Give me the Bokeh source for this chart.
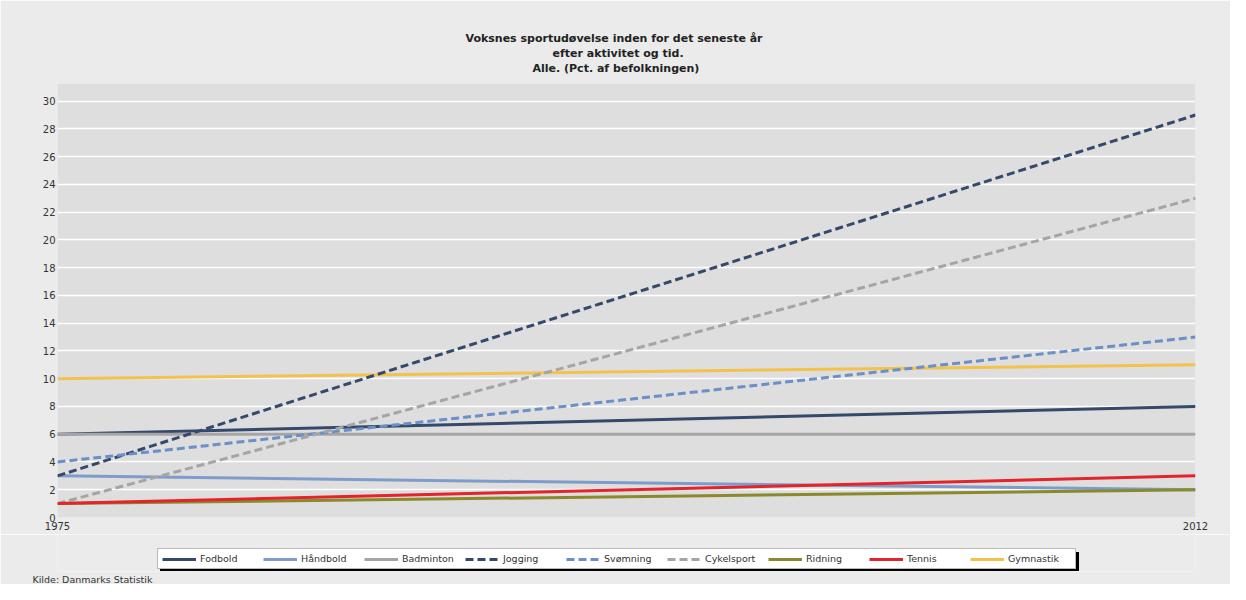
from bokeh.plotting import figure
from bokeh.layouts import column
from bokeh.models import Legend, LegendItem, FixedTicker, Range1d, Title
from bokeh.embed import file_html
from bokeh.resources import INLINE

years = [1975, 2012]
series_names = ["Fodbold", "Håndbold", "Badminton", "Jogging", "Svømning",
                "Cykelsport", "Ridning", "Tennis", "Gymnastik"]
fodbold = [6, 8]
haandbold = [3, 2]
badminton = [6, 6]
jogging = [3, 29]
svoemning = [4, 13]
cykelsport = [1, 23]
ridning = [1, 2]
tennis = [1, 3]
gymnastik = [10, 11]
y_ticks = list(range(0, 31, 2))
x_ticks = [1975, 2012]
title_lines = ["Voksnes sportudøvelse inden for det seneste år",
               "efter aktivitet og tid.",
               "Alle. (Pct. af befolkningen)"]
source_text = "Kilde: Danmarks Statistik"

values = [fodbold, haandbold, badminton, jogging, svoemning, cykelsport, ridning, tennis, gymnastik]
colors = ["#34496b", "#7e9ccb", "#a5a5a5", "#34496b", "#6b8fc8", "#a5a5a5", "#8a8a2c", "#e4232b", "#f2c24b"]
dashes = ["solid", "solid", "solid", "8 4", "8 4", "8 4", "solid", "solid", "solid"]

FONT = "DejaVu Sans"
BG = "#ebebeb"

p = figure(width=1230, height=534, output_backend="svg", toolbar_location=None,
           x_range=Range1d(1975, 2012), y_range=Range1d(0, 31.27),
           min_border_left=57, min_border_right=35, min_border_top=83, min_border_bottom=17,
           background_fill_color="#dedede", border_fill_color=BG, outline_line_color=None)

def style_title(t, offset):
    t.align = "left"
    t.offset = offset
    t.text_font = FONT
    t.text_font_size = "11px"
    t.text_font_style = "bold"
    t.text_color = "#222222"
    t.standoff = 0

# spacer between plot area and the title block
spacer = Title(text="\u00a0", text_font_size="1px", standoff=6)
p.add_layout(spacer, "above")
p.title.text = title_lines[0]
style_title(p.title, 408)
t3 = Title(text=title_lines[2])
style_title(t3, 475)
p.add_layout(t3, "above")
t2 = Title(text=title_lines[1])
style_title(t2, 495)
p.add_layout(t2, "above")

p.xgrid.grid_line_color = None
p.ygrid.grid_line_color = "white"
p.ygrid.grid_line_width = 1.5
p.yaxis.ticker = FixedTicker(ticks=y_ticks)
p.xaxis.ticker = FixedTicker(ticks=x_ticks)
for ax in (p.xaxis, p.yaxis):
    ax.axis_line_color = None
    ax.major_tick_line_color = None
    ax.minor_tick_line_color = None
    ax.major_tick_out = 0
    ax.major_tick_in = 0
    ax.major_label_text_font = FONT
    ax.major_label_text_font_size = "10px"
    ax.major_label_text_color = "#333333"
p.yaxis.major_label_standoff = 2
p.xaxis.major_label_standoff = 4

order = [8, 0, 1, 2, 3, 4, 5, 6, 7]
for i in order:
    p.line(years, values[i], line_color=colors[i], line_width=3, line_dash=dashes[i])

# Lower strip: legend (with drop shadow) and source note
q = figure(width=1230, height=50, output_backend="svg", toolbar_location=None,
           x_range=Range1d(0, 1), y_range=Range1d(0, 1),
           x_axis_type=None, y_axis_type=None,
           min_border_left=57, min_border_right=35, min_border_top=0, min_border_bottom=0,
           background_fill_color=BG, border_fill_color=BG, outline_line_color=None)
q.xgrid.visible = False
q.ygrid.visible = False

leg_renderers = []
for i in range(9):
    # same series; they fall outside this strip's ranges, so only the legend glyphs show
    leg_renderers.append(q.line(years, values[i], line_color=colors[i], line_width=3,
                                line_dash=dashes[i]))

common = dict(orientation="horizontal", glyph_width=34, glyph_height=10, label_height=10,
              label_width=63, label_standoff=4, spacing=0, padding=4, margin=0,
              label_text_font=FONT, label_text_font_size="9.5px")

shadow_items = [LegendItem(label=" ", renderers=[leg_renderers[i]]) for i in range(9)]
legend_items = [LegendItem(label=series_names[i], renderers=[leg_renderers[i]]) for i in range(9)]

shadow = Legend(items=shadow_items, location=(103, -1), background_fill_color="black",
                background_fill_alpha=1.0, border_line_color="black",
                label_text_color="black", **common)
legend = Legend(items=legend_items, location=(100, 2), background_fill_color="white",
                background_fill_alpha=1.0, border_line_color="#777777", border_line_width=1,
                label_text_color="#333333", **common)
q.add_layout(shadow, "center")
q.add_layout(legend, "center")

src = Title(text=source_text, align="left", offset=-25, standoff=0, text_font=FONT,
            text_font_size="9.5px", text_font_style="normal", text_color="#333333")
q.add_layout(src, "below")

layout = column(p, q, spacing=0)
open("out.html", "w").write(file_html(layout, INLINE))
